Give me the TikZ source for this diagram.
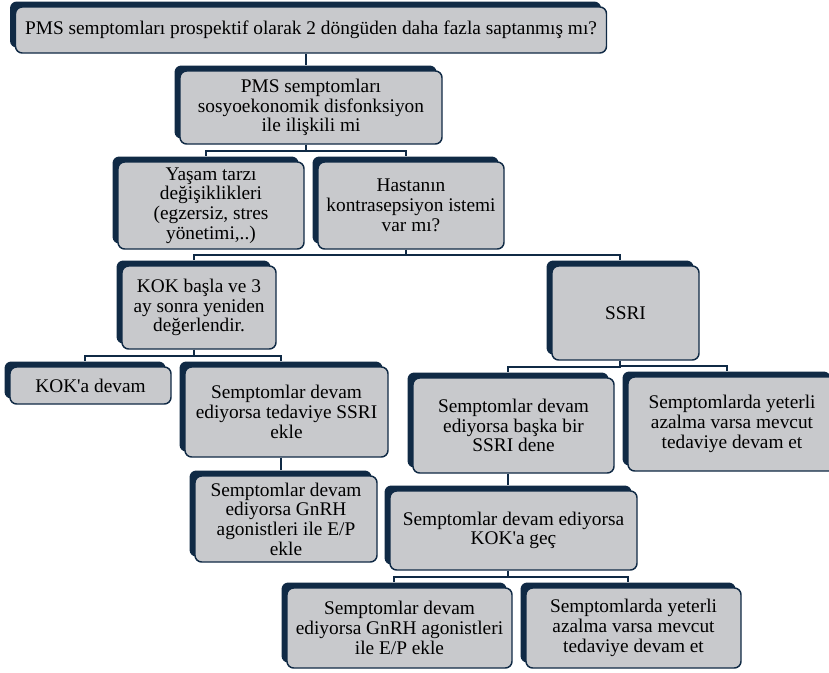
\documentclass[tikz,border=0pt]{standalone}
\usepackage{fontspec}
\setmainfont{Liberation Serif}
\newfontfamily\plainserif{Liberation Serif}
\newcommand{\apos}{{\plainserif\char"0027}}
\usetikzlibrary{shadows,calc,backgrounds}
\definecolor{navy}{HTML}{102A45}
\definecolor{boxgray}{HTML}{C8C9CC}
\tikzset{
  box/.style={draw=navy, line width=1.1pt, fill=boxgray, rounded corners=5pt,
    align=center, inner sep=0pt,
    font=\rmfamily\fontsize{14.5}{14.8}\selectfont,
    general shadow={fill=navy, shadow xshift=-4.1pt, shadow yshift=4.1pt}},
  conn/.style={draw=navy, line width=1.5pt}
}
\newcommand{\bx}[6]{\node[box, minimum width=#3*0.75pt, minimum height=#4*0.75pt] (#5) at (#1,#2) {#6};}
\begin{document}
\begin{tikzpicture}[x=0.75pt, y=-0.75pt]
\useasboundingbox (0,0) rectangle (829,672);
\bx{311}{30}{591}{46}{b1}{PMS semptomları prospektif olarak 2 döngüden daha fazla saptanmış mı?}
\bx{311}{107.5}{262}{73}{b2}{PMS semptomları\\sosyoekonomik disfonksiyon\\ile ilişkili mi}
\bx{211}{205.5}{186}{87}{b3}{Yaşam tarzı\\değişiklikleri\\(egzersiz, stres\\yönetimi,..)}
\bx{411}{205.5}{186}{87}{b4}{Hastanın\\kontrasepsiyon istemi\\var mı?}
\bx{199}{307.5}{154}{83}{b5}{KOK başla ve 3\\ay sonra yeniden\\değerlendir.}
\bx{625.5}{313}{147}{94}{b6}{SSRI}
\bx{90.5}{385.5}{161}{37}{b7}{KOK\apos a devam}
\bx{286.5}{412}{203}{90}{b8}{Semptomlar devam\\ediyorsa tedaviye SSRI\\ekle}
\bx{286}{519}{182}{86}{b9}{Semptomlar devam\\ediyorsa GnRH\\agonistleri ile E/P\\ekle}
\bx{513.5}{425.5}{201}{95}{b10}{Semptomlar devam\\ediyorsa başka bir\\SSRI dene}
\bx{732}{424}{208}{94}{b11}{Semptomlarda yeterli\\azalma varsa mevcut\\tedaviye devam et}
\bx{513.5}{530.5}{247}{79}{b12}{Semptomlar devam ediyorsa\\KOK\apos a geç}
\bx{399.5}{628}{225}{80}{b13}{Semptomlar devam\\ediyorsa GnRH agonistleri\\ile E/P ekle}
\bx{633.5}{628}{215}{80}{b14}{Semptomlarda yeterli\\azalma varsa mevcut\\tedaviye devam et}
\begin{scope}[on background layer]
\foreach \p/\c in {b1/b2, b2/b3, b2/b4, b4/b5, b4/b6, b5/b7, b5/b8, b8/b9, b6/b10, b6/b11, b10/b12, b12/b13, b12/b14}{
  \draw[conn] ($(\p.south)+(-5.5,0)$) |- ($(\c.north)+(-5.5,-10.5)$) -- ($(\c.north)+(-5.5,-5)$);
}
\end{scope}
\end{tikzpicture}
\end{document}
